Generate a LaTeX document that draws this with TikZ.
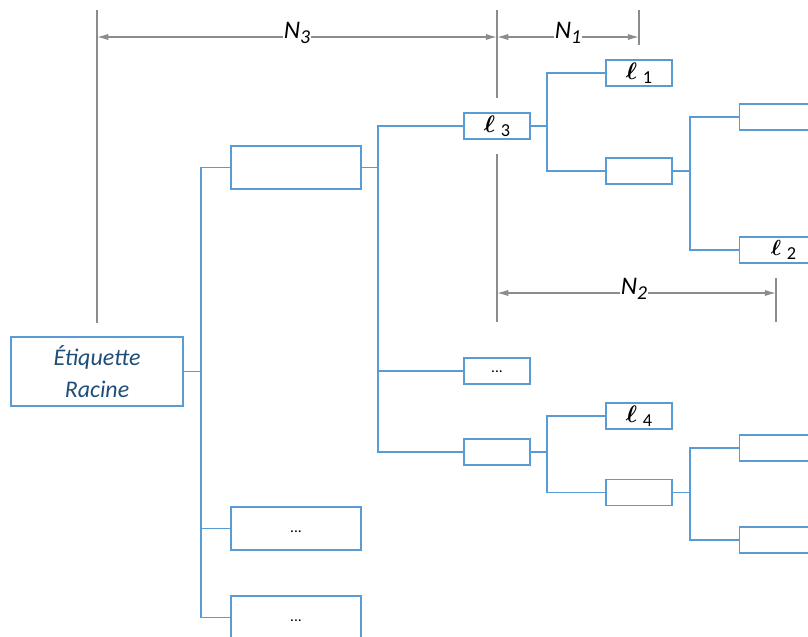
\documentclass[tikz,border=0pt]{standalone}
\usepackage{fontspec}
\setmainfont{Carlito}
\usetikzlibrary{
    arrows.meta,
    calc
}
\definecolor{boxblue}{HTML}{5B9BD5}
\definecolor{textblue}{HTML}{1F4E79}
\definecolor{dimgray}{HTML}{8C8C8C}
\tikzset{
  every path/.style={
    line width=0.8pt
  },
  box/.style={
    draw=boxblue,
    rectangle,
    inner sep=0pt
  },
  rootbox/.style={box, minimum width=4.3cm, minimum height=1.725cm,
    align=center, text=textblue, font=\fontsize{17}{22.7}\selectfont\itshape},
  bigbox/.style={box, minimum width=3.25cm, minimum height=1.075cm,
    font=\fontsize{11}{13}\selectfont},
  smallbox/.style={box, minimum width=1.65cm, minimum height=0.65cm,
    font=\fontsize{11}{13}\selectfont},
  edgebox/.style={box, anchor=west, minimum width=2.2cm, minimum height=0.65cm},
  link/.style={draw=boxblue},
  dimline/.style={draw=dimgray, line width=1pt},
  dimarrow/.style={dimline, {Latex[length=8pt,width=4.5pt]}-{Latex[length=8pt,width=4.5pt]}},
  dimlabel/.style={fill=white, inner sep=0.5pt, font=\fontsize{18}{20}\selectfont\itshape}
}
\newcommand{\lab}[1]{\scalebox{1.55}{\boldmath$\ell$}\hspace{4pt}\raisebox{-0.5ex}{\fontsize{13}{14}\selectfont #1}}
\newcommand{\dimname}[1]{N\raisebox{-0.4ex}{\fontsize{14}{15}\selectfont\itshape #1}}

\begin{document}
\begin{tikzpicture}[x=0.025cm, y=-0.025cm]
    \useasboundingbox (0,0) rectangle (808,637);
    %-------------------------
    % les boites
    %-------------------------
    \node[rootbox] (root) at (97,371.5) {Étiquette\\Racine};

    \node[bigbox] (a) at (296,167.5) {};
    \node[bigbox] (b) at (296,528.5) {\raisebox{-1.2ex}{...}};
    \node[bigbox] (c) at (296,617.5) {\raisebox{-1.2ex}{...}};

    \node[smallbox] (l3) at (497,126) {\lab{3}};
    \node[smallbox] (dots) at (497,371) {\raisebox{-0.4ex}{...}};
    \node[smallbox] (d) at (497,452) {};

    \node[smallbox] (l1) at (639,73) {\lab{1}};
    \node[smallbox] (e) at (639,171) {};
    \node[smallbox] (l4) at (639,416) {\lab{4}};
    \node[smallbox] (f) at (639,492.5) {};

    \node[edgebox] (g) at (739,117) {};
    \node[edgebox] (l2) at (739,250) {\makebox[1.65cm]{\lab{2}}\hspace{0.55cm}};
    \node[edgebox] (h) at (739,448) {};
    \node[edgebox] (k) at (739,540) {};

    %-------------------------
    % les liens
    %-------------------------
    \coordinate (t0) at (201,371.5);
    \coordinate (t1) at (378,167.5);
    \coordinate (t2) at (547,126);
    \coordinate (t3) at (547,452);
    \coordinate (t4) at (690,171);
    \coordinate (t5) at (690,492.5);

    \draw[link] (root) -- (t0);
    \draw[link] (t0) |- (a);
    \draw[link] (t0) |- (b);
    \draw[link] (t0) |- (c);

    \draw[link] (a) -- (t1);
    \draw[link] (t1) |- (l3);
    \draw[link] (t1) |- (dots);
    \draw[link] (t1) |- (d);

    \draw[link] (l3) -- (t2);
    \draw[link] (t2) |- (l1);
    \draw[link] (t2) |- (e);

    \draw[link] (d) -- (t3);
    \draw[link] (t3) |- (l4);
    \draw[link] (t3) |- (f);

    \draw[link] (e) -- (t4);
    \draw[link] (t4) |- (g);
    \draw[link] (t4) |- (l2);

    \draw[link] (f) -- (t5);
    \draw[link] (t5) |- (h);
    \draw[link] (t5) |- (k);

    %-------------------------
    % les cotes N1, N2, N3
    %-------------------------
    \coordinate (v0t) at (97,10);
    \coordinate (v0b) at (97,323);
    \coordinate (v1t) at (497,10);
    \coordinate (v1b) at (497,98);
    \coordinate (v2t) at (497,154);
    \coordinate (v2b) at (497,322);
    \coordinate (v3t) at (639,10);
    \coordinate (v3b) at (639,45);
    \coordinate (v4t) at (776,278);
    \coordinate (v4b) at (776,322);

    \draw[dimline] (v0t) -- (v0b);
    \draw[dimline] (v1t) -- (v1b);
    \draw[dimline] (v2t) -- (v2b);
    \draw[dimline] (v3t) -- (v3b);
    \draw[dimline] (v4t) -- (v4b);

    \coordinate (n3a) at (97,37);
    \coordinate (n3b) at (497,37);
    \coordinate (n1b) at (639,37);
    \coordinate (n2a) at (497,293);
    \coordinate (n2b) at (776,293);

    \draw[dimarrow] (n3a) -- (n3b);
    \draw[dimarrow] (n3b) -- (n1b);
    \draw[dimarrow] (n2a) -- (n2b);

    \node[dimlabel] (n3) at (297,33) {\dimname{3}};
    \node[dimlabel] (n1) at (568,33) {\dimname{1}};
    \node[dimlabel] (n2) at (634,289) {\dimname{2}};

\end{tikzpicture}
\end{document}
